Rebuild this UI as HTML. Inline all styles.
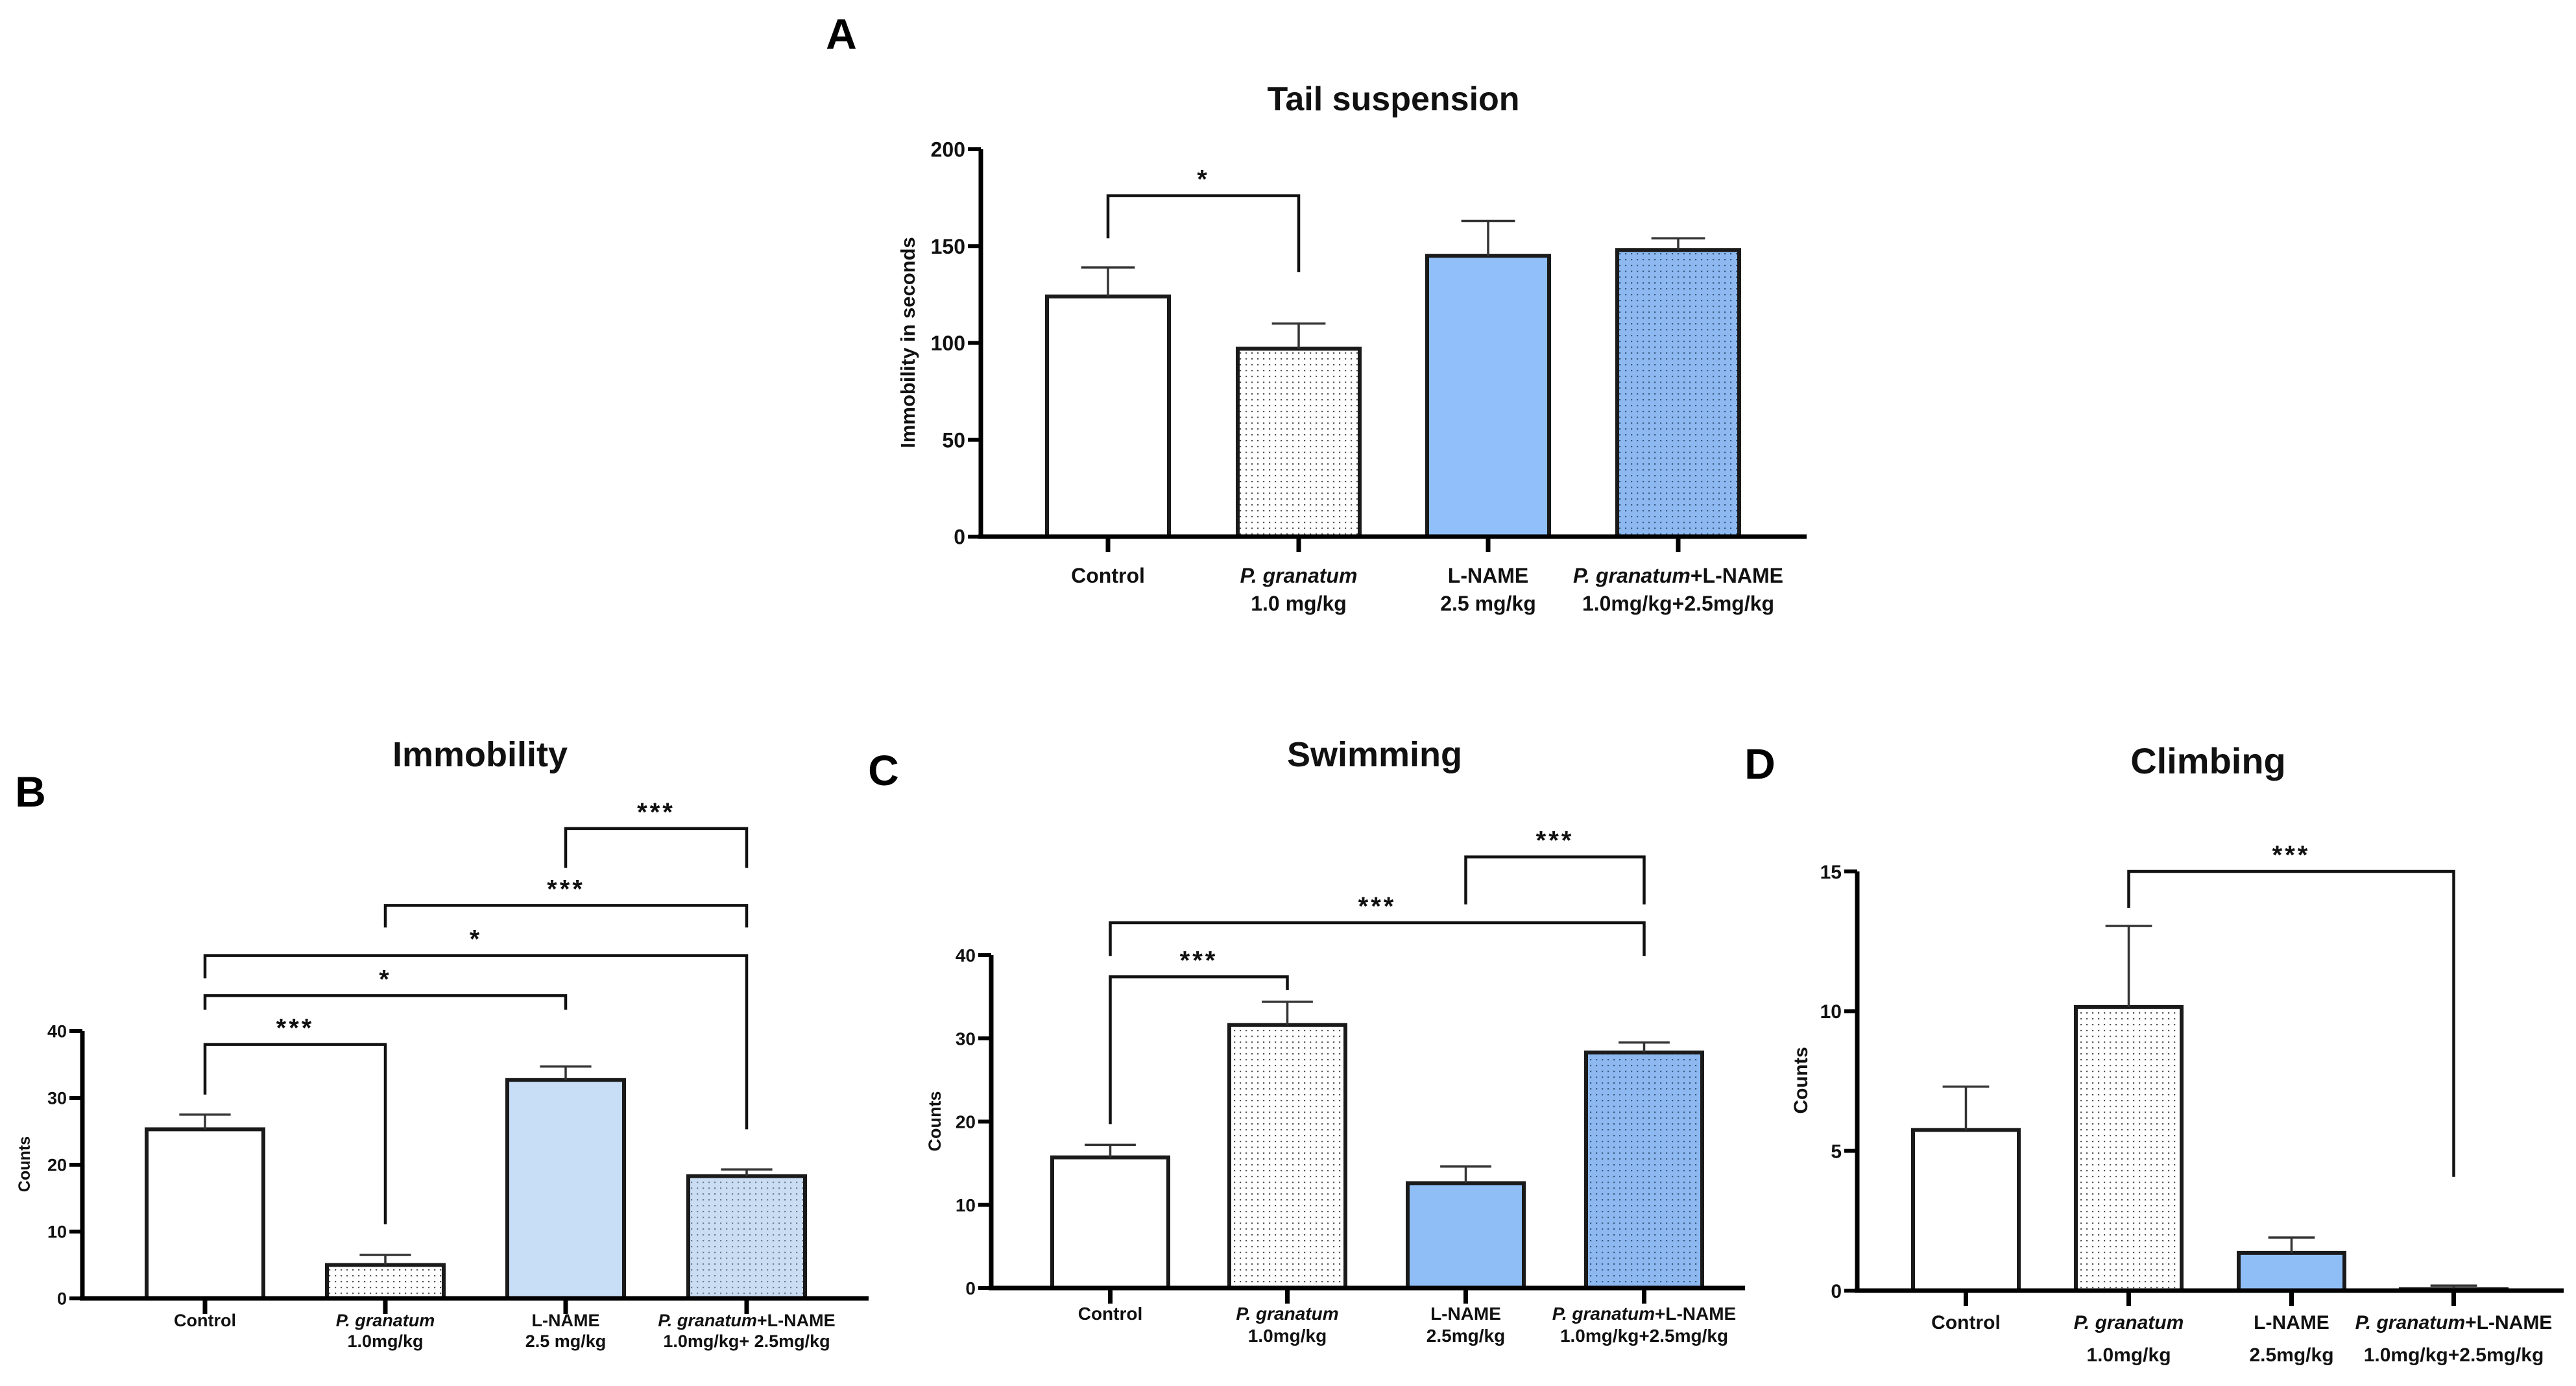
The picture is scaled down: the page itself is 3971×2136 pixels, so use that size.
<!DOCTYPE html>
<html><head><meta charset="utf-8"><style>
html,body{margin:0;padding:0;background:#fff;overflow:hidden}
svg{display:block}
text{font-family:"Liberation Sans",sans-serif}
.tick{font-family:"Liberation Sans Narrow","Liberation Sans",sans-serif;font-weight:bold;fill:#111}
</style></head><body>
<svg id="fig" width="3971" height="2136" viewBox="0 0 3971 2136" xmlns="http://www.w3.org/2000/svg">
<defs>
<pattern id="dotsW" width="9" height="9" patternUnits="userSpaceOnUse"><rect width="9" height="9" fill="#fff"/><rect x="3" y="3" width="2.2" height="2.2" fill="#555"/></pattern>
<pattern id="dotsB" width="9" height="9" patternUnits="userSpaceOnUse"><rect width="9" height="9" fill="#8DB9F0"/><rect x="3" y="3" width="2.2" height="2.2" fill="#3a5a80"/></pattern>
<pattern id="dotsLB" width="9" height="9" patternUnits="userSpaceOnUse"><rect width="9" height="9" fill="#CADDF3"/><rect x="3" y="3" width="2.2" height="2.2" fill="#6b7f99"/></pattern>
</defs>
</svg>
<script>
// Categories
const categories = ["Control","P. granatum","L-NAME","P. granatum+L-NAME"];
const doseA = ["","1.0 mg/kg","2.5 mg/kg","1.0mg/kg+2.5mg/kg"];
const doseB = ["","1.0mg/kg","2.5 mg/kg","1.0mg/kg+ 2.5mg/kg"];
const doseC = ["","1.0mg/kg","2.5mg/kg","1.0mg/kg+2.5mg/kg"];
const doseD = ["","1.0mg/kg","2.5mg/kg","1.0mg/kg+2.5mg/kg"];
// Panel A: tail suspension
const meanA = [124, 97, 145, 148];
const errA = [139, 110, 163, 154];
const ticksA = [0, 50, 100, 150, 200];
const sigA = [[0,1,176,154,136.6,"*"]];
// Panel B: immobility
const meanB = [25.3, 5, 32.7, 18.3];
const errB = [27.5, 6.5, 34.7, 19.3];
const ticksB = [0, 10, 20, 30, 40];
const sigB = [[0,1,38.0,30.5,11.1,"***"],[0,2,45.3,43.2,43.2,"*"],[0,3,51.3,47.9,25.3,"*"],[1,3,58.8,55.5,55.5,"***"],[2,3,70.3,64.4,64.4,"***"]];
// Panel C: swimming
const meanC = [15.7, 31.6, 12.6, 28.3];
const errC = [17.2, 34.4, 14.6, 29.5];
const ticksC = [0, 10, 20, 30, 40];
const sigC = [[0,1,37.4,19.7,35.8,"***"],[0,3,43.9,39.9,39.9,"***"],[2,3,51.8,46.1,46.1,"***"]];
// Panel D: climbing
const meanD = [5.75, 10.15, 1.35, 0.05];
const errD = [7.3, 13.05, 1.9, 0.18];
const ticksD = [0, 5, 10, 15];
const sigD = [[1,3,15.0,13.7,4.07,"***"]];

const NS = "http://www.w3.org/2000/svg";
const svg = document.getElementById("fig");
function mk(tag, attrs, parent){
  const e = document.createElementNS(NS, tag);
  for (const k in attrs) e.setAttribute(k, attrs[k]);
  (parent||svg).appendChild(e);
  return e;
}
function panel(p){
  const g = mk("g", {});
  
  
  const ymax = p.ticks[p.ticks.length-1];
  const y = v => p.y0 - (v/ymax)*(p.y0-p.yTop);
  const bw = p.barW, cx = i => p.bars[i] + bw/2;
  const t = mk("text", {x:p.titleX, y:p.titleY, "text-anchor":"middle", "font-size":p.titleSize, "font-weight":"bold", fill:"#111"}, g);
  t.textContent = p.title;
  
  
  const L = mk("text", {x:p.letterX, y:p.letterY, "text-anchor":"middle", "font-size":66, "font-weight":"bold", fill:"#000"}, g);
  L.textContent = p.letter;
  
  
  p.mean.forEach((m,i)=>{
    const r = mk("rect", {x:p.bars[i], y:y(m), width:bw, height:p.y0-y(m), fill:p.fills[i], stroke:"#1a1a1a", "stroke-width":6}, g);
    
    
    const e = mk("path", {d:`M${cx(i)},${y(m)}V${y(p.err[i])}M${cx(i)-bw*0.22},${y(p.err[i])}H${cx(i)+bw*0.22}`, stroke:"#333", "stroke-width":3.5, fill:"none"}, g);
    
    
  });
  const ax = mk("path", {d:`M${p.yAxisX},${p.yTop}V${p.y0}M${p.yAxisX-4},${p.y0}H${p.xEnd}`, stroke:"#000", "stroke-width":7, fill:"none"}, g);
  
  
  p.ticks.forEach(v=>{
    mk("line", {x1:p.yAxisX-20, x2:p.yAxisX, y1:y(v), y2:y(v), stroke:"#000", "stroke-width":6}, g);
    const tx = mk("text", {x:p.yAxisX-24, y:y(v)+p.tickSize*0.36, "text-anchor":"end", "font-size":p.tickSize, class:"tick"}, g);
    tx.textContent = v;
    
    
  });
  categories.forEach((c,i)=>{
    mk("line", {x1:cx(i), x2:cx(i), y1:p.y0, y2:p.y0+24, stroke:"#000", "stroke-width":7}, g);
    const tx = mk("text", {x:cx(i), y:p.lab1, "text-anchor":"middle", "font-size":p.labSize, class:"tick"}, g);
    
    
    if (i===1){ tx.setAttribute("font-style","italic"); tx.textContent=c; }
    else if (i===3){
      const s1 = mk("tspan", {"font-style":"italic"}, tx); s1.textContent="P. granatum";
      const s2 = mk("tspan", {}, tx); s2.textContent="+L-NAME";
    } else tx.textContent = c;
    if (p.dose[i]){
      const d = mk("text", {x:cx(i), y:p.lab2, "text-anchor":"middle", "font-size":p.labSize, class:"tick"}, g);
      d.textContent = p.dose[i];
      
      
    }
  });
  const yt = mk("text", {x:p.yTitleX, y:p.yTitleY, "text-anchor":"middle", "font-size":p.yTitleSize, "font-weight":"bold", fill:"#111", transform:`rotate(-90 ${p.yTitleX} ${p.yTitleY})`}, g);
  yt.textContent = p.yTitle;
  
  
  p.sig.forEach(s=>{
    const [a,b,h,la,lb,lab] = s;
    const br = mk("path", {d:`M${cx(a)},${y(la)}V${y(h)}H${cx(b)}V${y(lb)}`, stroke:"#111", "stroke-width":4.5, fill:"none"}, g);
    
    
    const st = mk("text", {x:(cx(a)+cx(b))/2, y:y(h)-12, "text-anchor":"middle", "font-size":40, "font-weight":"bold", fill:"#111", "letter-spacing":4}, g);
    st.textContent = lab;
    
    
  });
}
panel({name:"panel-a-tail-suspension", title:"Tail suspension", titleX:2148, titleY:170, titleSize:52, letter:"A", letterX:1297, letterY:75,
  mean:meanA, err:errA, ticks:ticksA, sig:sigA, dose:doseA, y0:827, yTop:230, yAxisX:1512, xEnd:2785,
  bars:[1614,1908,2200,2493], barW:188, fills:["#fff","url(#dotsW)","#90BFF9","url(#dotsB)"],
  tickSize:32, labSize:32, lab1:898, lab2:941, yTitle:"Immobility in seconds", yTitleX:1410, yTitleY:528, yTitleSize:31});
panel({name:"panel-b-immobility", title:"Immobility", titleX:740, titleY:1181, titleSize:54, letter:"B", letterX:47, letterY:1243,
  mean:meanB, err:errB, ticks:ticksB, sig:sigB, dose:doseB, y0:2001, yTop:1589, yAxisX:127, xEnd:1339,
  bars:[226,504,782,1061], barW:180, fills:["#fff","url(#dotsW)","#C8DDF6","url(#dotsLB)"],
  tickSize:27, labSize:27, lab1:2044, lab2:2076, yTitle:"Counts", yTitleX:46, yTitleY:1794, yTitleSize:25});
panel({name:"panel-c-swimming", title:"Swimming", titleX:2119, titleY:1181, titleSize:54, letter:"C", letterX:1362, letterY:1210,
  mean:meanC, err:errC, ticks:ticksC, sig:sigC, dose:doseC, y0:1985, yTop:1472, yAxisX:1528, xEnd:2690,
  bars:[1622,1895,2170,2445], barW:179, fills:["#fff","url(#dotsW)","#8FBEF7","url(#dotsB)"],
  tickSize:28, labSize:28, lab1:2034, lab2:2068, yTitle:"Counts", yTitleX:1450, yTitleY:1728, yTitleSize:27});
panel({name:"panel-d-climbing", title:"Climbing", titleX:3404, titleY:1192, titleSize:56, letter:"D", letterX:2713, letterY:1200,
  mean:meanD, err:errD, ticks:ticksD, sig:sigD, dose:doseD, y0:1989, yTop:1343, yAxisX:2863, xEnd:3952,
  bars:[2949,3200,3451,3701], barW:163, fills:["#fff","url(#dotsW)","#8FBEF7","url(#dotsB)"],
  tickSize:30, labSize:30, lab1:2048, lab2:2098, yTitle:"Counts", yTitleX:2786, yTitleY:1665, yTitleSize:30});
</script>
</body></html>
